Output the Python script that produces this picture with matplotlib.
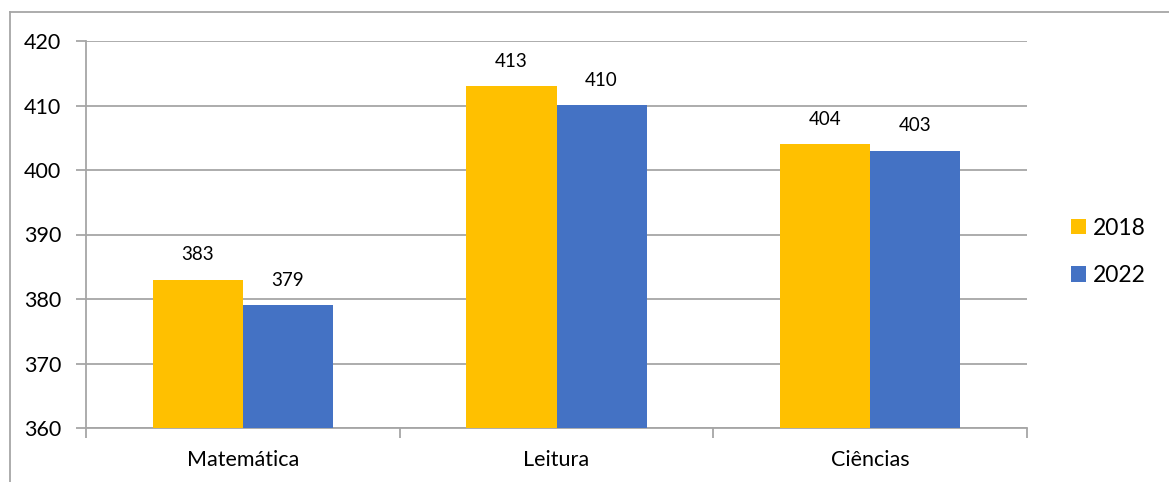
import matplotlib
matplotlib.use("Agg")
import matplotlib.pyplot as plt
from matplotlib.patches import Patch
from matplotlib.lines import Line2D
import numpy as np

plt.rcParams['font.family'] = ['Lato', 'DejaVu Sans']

categories = ["Matemática", "Leitura", "Ciências"]
series_names = ["2018", "2022"]
scores_2018 = [383, 413, 404]
scores_2022 = [379, 410, 403]
y_ticks = [360, 370, 380, 390, 400, 410, 420]

colors = ["#FFC000", "#4472C4"]
grid_color = "#a6a6a6"

fig = plt.figure(figsize=(11.69, 4.82), dpi=100)
ax = fig.add_axes([86 / 1169, 1 - 428 / 482, (1027 - 86) / 1169, (428 - 41) / 482])

x = np.arange(len(categories))
width = 0.287
for i, (vals, name) in enumerate(zip([scores_2018, scores_2022], series_names)):
    offs = (i - 0.5) * width
    ax.bar(x + offs, [v - y_ticks[0] for v in vals], width, bottom=y_ticks[0],
           color=colors[i], zorder=3, label=name)
    for xi, v in zip(x + offs, vals):
        ax.annotate(str(v), (xi, v), xytext=(0, 18), textcoords="offset points",
                    ha="center", va="center", fontsize=13.5, color="#000000")

ax.set_xlim(-0.5, len(categories) - 0.5)
ax.set_ylim(y_ticks[0], y_ticks[-1])
ax.set_yticks(y_ticks)
ax.yaxis.grid(True, color=grid_color, linewidth=1.3, zorder=0)
ax.set_axisbelow(True)

ax.set_xticks(np.arange(-0.5, len(categories), 1.0))
ax.set_xticklabels([])
ax.set_xticks(x, minor=True)
ax.set_xticklabels(categories, minor=True)
ax.tick_params(axis="x", which="major", length=7, width=1.3, color=grid_color, direction="out")
ax.tick_params(axis="x", which="minor", length=0, pad=16, labelsize=15.5)
ax.tick_params(axis="y", length=7, width=1.3, color=grid_color, pad=11, labelsize=15.5)

for s in ["top", "right"]:
    ax.spines[s].set_visible(False)
for s in ["left", "bottom"]:
    ax.spines[s].set_color(grid_color)
    ax.spines[s].set_linewidth(1.3)

# Legend
handles = [Patch(facecolor=c, edgecolor="none") for c in colors]
fig.legend(handles, series_names, loc="center left", bbox_to_anchor=(1050 / 1169, 1 - 252 / 482),
           frameon=False, fontsize=16.5, handlelength=0.65, handleheight=0.65,
           handletextpad=0.3, labelspacing=1.15)

# Chart frame (left and top edges)
fig.add_artist(Line2D([10 / 1169, 10 / 1169], [0, 1 - 12 / 482], transform=fig.transFigure,
                      color=grid_color, linewidth=1.3))
fig.add_artist(Line2D([10 / 1169, 1], [1 - 12 / 482, 1 - 12 / 482], transform=fig.transFigure,
                      color=grid_color, linewidth=1.3))

fig.savefig("out.png", dpi=100)
